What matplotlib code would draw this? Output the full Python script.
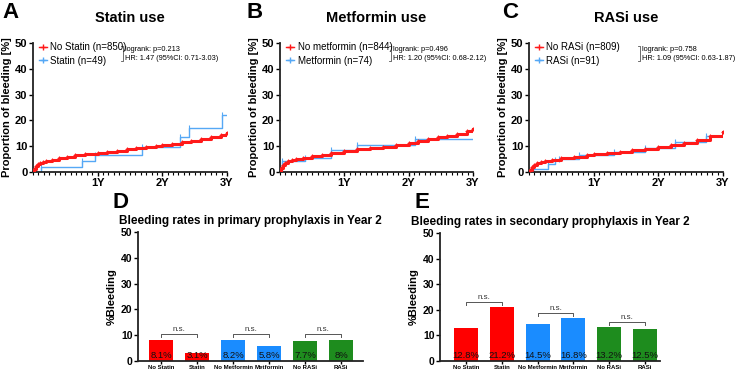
import matplotlib

matplotlib.use("Agg")

import matplotlib.pyplot as plt
from matplotlib.lines import Line2D
from matplotlib.ticker import MultipleLocator

plt.rcParams["font.family"] = ["Liberation Sans", "DejaVu Sans"]

RED = "#ff1a1a"
BLUE = "#55a8f5"

# ---------- Kaplan-Meier style data (time in years, cumulative %) ----------
statin_titles = ["Statin use", "Metformin use", "RASi use"]
panel_letters_top = ["A", "B", "C"]
legend_labels = [
    ["No Statin (n=850)", "Statin (n=49)"],
    ["No metformin (n=844)", "Metformin (n=74)"],
    ["No RASi (n=809)", "RASi (n=91)"],
]
stats_text = [
    "logrank: p=0.213\nHR: 1.47 (95%CI: 0.71-3.03)",
    "logrank: p=0.496\nHR: 1.20 (95%CI: 0.68-2.12)",
    "logrank: p=0.758\nHR: 1.09 (95%CI: 0.63-1.87)",
]

# reference group (red)
a_red_t = [0, 0.02, 0.05, 0.08, 0.11, 0.15, 0.2, 0.3, 0.4, 0.52, 0.65, 0.8, 1.0, 1.15,
           1.3, 1.45, 1.6, 1.75, 1.9, 2.0, 2.15, 2.3, 2.45, 2.6, 2.75, 2.9, 3.0]
a_red_v = [0, 1.2, 2.3, 3.0, 3.4, 3.8, 4.2, 4.8, 5.3, 6.0, 6.4, 6.9, 7.3, 7.8,
           8.3, 8.8, 9.2, 9.6, 10.0, 10.3, 10.8, 11.5, 12.0, 12.6, 13.4, 14.4, 15.0]
a_blue_t = [0, 0.13, 0.75, 0.96, 1.68, 2.28, 2.42, 2.92, 3.0]
a_blue_v = [0, 2.1, 4.3, 6.5, 9.7, 13.4, 17.2, 22.0, 22.0]

b_red_t = [0, 0.02, 0.05, 0.08, 0.12, 0.18, 0.25, 0.35, 0.5, 0.65, 0.8, 1.0, 1.2,
           1.4, 1.6, 1.8, 2.0, 2.15, 2.3, 2.45, 2.6, 2.75, 2.9, 3.0]
b_red_v = [0, 1.5, 2.8, 3.6, 4.2, 4.6, 5.0, 5.5, 6.2, 6.7, 7.3, 8.3, 8.8,
           9.3, 9.8, 10.4, 11.2, 12.2, 12.8, 13.4, 14.0, 14.8, 15.8, 16.5]
b_blue_t = [0, 0.03, 0.39, 0.79, 1.19, 2.1, 3.0]
b_blue_v = [0, 4.3, 5.5, 8.6, 10.3, 12.8, 12.8]

c_red_t = [0, 0.02, 0.05, 0.08, 0.12, 0.18, 0.25, 0.35, 0.5, 0.7, 0.9, 1.0, 1.2,
           1.4, 1.6, 1.8, 2.0, 2.2, 2.4, 2.6, 2.8, 3.0]
c_red_v = [0, 0.8, 1.8, 2.6, 3.3, 3.9, 4.3, 4.8, 5.5, 6.0, 6.4, 6.8, 7.3,
           7.9, 8.5, 9.1, 9.7, 10.5, 11.4, 12.4, 13.8, 15.5]
c_blue_t = [0, 0.06, 0.29, 0.4, 0.47, 0.77, 1.32, 1.8, 2.25, 2.74, 3.0]
c_blue_v = [0, 1.1, 3.0, 4.5, 5.2, 6.5, 7.8, 9.3, 11.5, 14.0, 14.0]

km_data = [
    (a_red_t, a_red_v, a_blue_t, a_blue_v),
    (b_red_t, b_red_v, b_blue_t, b_blue_v),
    (c_red_t, c_red_v, c_blue_t, c_blue_v),
]

# ---------- bar chart data ----------
bar_categories = ["No Statin", "Statin", "No Metformin", "Metformin", "No RASi", "RASi"]
bar_colors = ["#ff0000", "#ff0000", "#1a8cff", "#1a8cff", "#1e8c1e", "#1e8c1e"]
primary_rates = [8.1, 3.1, 8.2, 5.8, 7.7, 8.0]
primary_labels = ["8.1%", "3.1%", "8.2%", "5.8%", "7.7%", "8%"]
secondary_rates = [12.8, 21.2, 14.5, 16.8, 13.2, 12.5]
secondary_labels = ["12.8%", "21.2%", "14.5%", "16.8%", "13.2%", "12.5%"]
primary_brackets = [10.3, 10.3, 10.3]
secondary_brackets = [22.9, 18.6, 15.1]

fig = plt.figure(figsize=(7.35, 3.69), dpi=100)
W, H = 735, 369


def px_axes(left, top, right, bottom):
    return fig.add_axes([left / W, 1 - bottom / H, (right - left) / W, (bottom - top) / H])


def style_axes(ax):
    for side in ["top", "right"]:
        ax.spines[side].set_visible(False)
    for side in ["left", "bottom"]:
        ax.spines[side].set_linewidth(1.3)
        ax.spines[side].set_color("#222222")
    ax.tick_params(width=1.0, length=3, labelsize=7.5, pad=1)
    for lbl in ax.get_yticklabels() + ax.get_xticklabels():
        lbl.set_fontweight("bold")


km_boxes = [(33, 43, 227, 172), (280, 43, 473, 172), (529, 43, 723, 172)]
bracket_x = [0.464, 0.575, 0.572]
letter_x = [2, 247, 502]

for i, (l, t, r, b) in enumerate(km_boxes):
    ax = px_axes(l, t, r, b)
    red_t, red_v, blue_t, blue_v = km_data[i]
    ax.step(blue_t, blue_v, where="post", color=BLUE, lw=1.0, zorder=2)
    ax.plot(blue_t[1:-1], blue_v[1:-1], "|", color=BLUE, ms=4, mew=0.8, zorder=2)
    ax.step(red_t, red_v, where="post", color=RED, lw=2.2, zorder=3)
    ax.plot(red_t[1:], red_v[1:], "+", color=RED, ms=3, mew=0.8, zorder=3)
    ax.set_xlim(0, 3.0)
    ax.set_ylim(0, 50)
    ax.set_yticks([0, 10, 20, 30, 40, 50])
    ax.set_xticks([1, 2, 3])
    ax.set_xticklabels(["1Y", "2Y", "3Y"])
    ax.xaxis.set_minor_locator(MultipleLocator(1 / 12))
    ax.tick_params(axis="x", which="minor", length=2, width=0.8)
    ax.set_ylabel("Proportion of bleeding [%]", fontsize=8, fontweight="bold", labelpad=2)
    ax.set_title(statin_titles[i], fontsize=10.5, fontweight="bold", pad=15)
    style_axes(ax)
    ax.tick_params(axis="x", which="major", labelsize=8)
    ax.tick_params(axis="y", labelsize=8)

    handles = [
        Line2D([], [], color=RED, marker="+", ms=4, lw=1.0),
        Line2D([], [], color=BLUE, marker="+", ms=4, lw=1.0),
    ]
    ax.legend(handles, legend_labels[i], loc="upper left", bbox_to_anchor=(0.0, 1.05),
              frameon=False, fontsize=7, handlelength=0.8, handletextpad=0.4,
              borderaxespad=0.2, labelspacing=0.35)
    bx = bracket_x[i]
    ax.plot([bx - 0.012, bx, bx, bx - 0.012], [0.975, 0.975, 0.86, 0.86],
            transform=ax.transAxes, color="#555555", lw=0.6, clip_on=False)
    ax.text(bx + 0.008, 0.917, stats_text[i], transform=ax.transAxes, fontsize=5.3,
            va="center", ha="left", linespacing=1.35)
    fig.text(letter_x[i] / W, 1 - 13 / H, panel_letters_top[i], fontsize=16,
             fontweight="bold", va="center", ha="left")


def bar_panel(box, rates, labels, brackets, title, letter, letter_xy, xlim, width):
    ax = px_axes(*box)
    xs = list(range(len(bar_categories)))
    ax.bar(xs, rates, width=width, color=bar_colors, zorder=2)
    for x, lab in zip(xs, labels):
        ax.text(x, 0.2, lab, ha="center", va="bottom", fontsize=6.8, color="#111111")
    for k, y in enumerate(brackets):
        x0, x1 = 2 * k, 2 * k + 1
        ax.plot([x0, x0, x1, x1], [y - 0.9, y, y, y - 0.9], color="#555555", lw=0.7)
        ax.text((x0 + x1) / 2, y + 0.4, "n.s.", ha="center", va="bottom", fontsize=5.8,
                color="#333333")
    ax.set_xlim(*xlim)
    ax.set_ylim(0, 50)
    ax.set_yticks([0, 10, 20, 30, 40, 50])
    ax.set_xticks(xs)
    ax.set_xticklabels(bar_categories)
    ax.set_ylabel("%Bleeding", fontsize=8, fontweight="bold", labelpad=3)
    ax.set_title(title, fontsize=8.5, fontweight="bold", pad=6)
    style_axes(ax)
    ax.tick_params(axis="x", length=2, labelsize=4.3, pad=1)
    fig.text(letter_xy[0] / W, 1 - letter_xy[1] / H, letter, fontsize=16,
             fontweight="bold", va="center", ha="left")


bar_panel((138, 232, 363, 361), primary_rates, primary_labels, primary_brackets,
          "Bleeding rates in primary prophylaxis in Year 2", "D", (113, 202),
          (-0.64, 5.61), 0.65)
bar_panel((440, 233, 660, 361), secondary_rates, secondary_labels, secondary_brackets,
          "Bleeding rates in secondary prophylaxis in Year 2", "E", (415, 202),
          (-0.73, 5.42), 0.67)

fig.savefig("out.png", dpi=100)
